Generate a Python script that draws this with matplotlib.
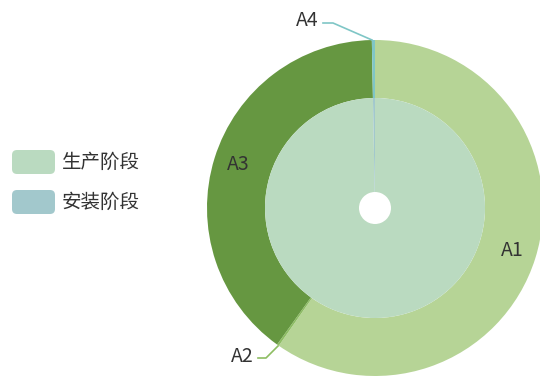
import matplotlib.pyplot as plt
from matplotlib.patches import FancyBboxPatch

plt.rcParams['font.family'] = ['Noto Sans CJK SC', 'DejaVu Sans']

# 外圈
outer_names = ['A1', 'A2', 'A3', 'A4']
outer_vals = [59.7, 0.2, 39.8, 0.3]
outer_colors = ['#b6d496', '#8dbd62', '#669741', '#7fc6c6']

# 内圈
inner_names = ['生产阶段', '安装阶段']
inner_vals = [99.7, 0.3]
inner_colors = ['#badac0', '#a2c8cc']

fig = plt.figure(figsize=(5.4, 3.76), dpi=100)
ax = fig.add_axes([0, 0, 1, 1])

cx, cy = 375, 376 - 208

ax.pie(outer_vals, radius=168, center=(cx, cy), startangle=90, counterclock=False,
       colors=outer_colors, wedgeprops=dict(width=58, linewidth=0), frame=True)
ax.pie(inner_vals, radius=110, center=(cx, cy), startangle=90, counterclock=False,
       colors=inner_colors, wedgeprops=dict(width=94, linewidth=0), frame=True)
ax.set_xlim(0, 540)
ax.set_ylim(0, 376)
ax.set_aspect('equal')
ax.axis('off')

# 标签
fs = 14
ax.text(512, 376 - 251, 'A1', fontsize=fs, ha='center', va='center', color='#333333')
ax.text(238, 376 - 164, 'A3', fontsize=fs, ha='center', va='center', color='#333333')
ax.text(319, 376 - 21, 'A4', fontsize=fs, ha='right', va='center', color='#333333')
ax.text(254, 376 - 356, 'A2', fontsize=fs, ha='right', va='center', color='#333333')
ax.plot([323, 333, 372], [376 - 23, 376 - 23, 376 - 40], color=outer_colors[3], lw=1.2)
ax.plot([258, 266, 278], [376 - 358, 376 - 358, 376 - 346], color=outer_colors[1], lw=1.2)

# 图例
for i, (name, c) in enumerate(zip(inner_names, inner_colors)):
    y = 376 - 162 - i * 40
    ax.add_patch(FancyBboxPatch((12, y - 12), 43, 24, boxstyle='round,pad=0,rounding_size=5',
                                fc=c, ec='none'))
    ax.text(62, y, name, fontsize=14, va='center', ha='left', color='#333333')

fig.savefig('out.png', dpi=100)
